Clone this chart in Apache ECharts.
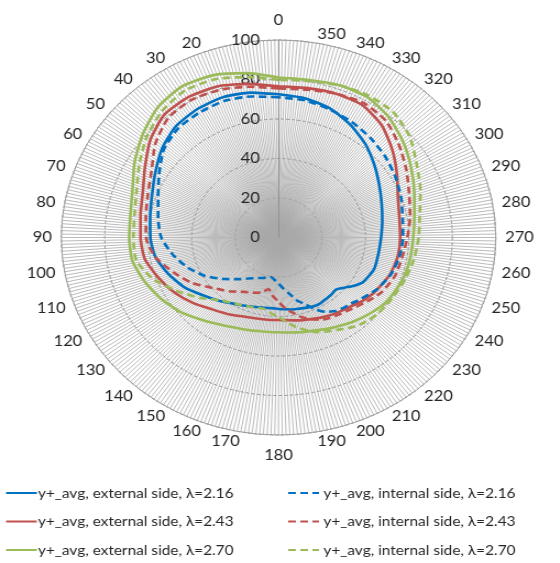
<!DOCTYPE html>
<html>
<head>
<meta charset="utf-8">
<script src="https://cdn.jsdelivr.net/npm/echarts@6/dist/echarts.min.js"></script>
<style>
html,body{margin:0;padding:0;background:#fff;overflow:hidden;}
#chart{width:509px;height:563px;transform:scaleX(1.1);transform-origin:0 0;}
</style>
</head>
<body>
<div id="chart"></div>
<script>
// angle (degrees) of each sampled point
const angles = [0,10,20,30,40,50,60,70,80,90,100,110,120,130,140,150,160,165,170,175,180,185,190,195,200,205,210,215,220,225,230,235,240,250,260,270,280,290,300,310,320,330,340,350,360];

const ext216 = [72.5,74.5,75.5,75,73.5,70,65.5,62,60,59,57.5,54,50.2,45.5,42,39,37.2,36.6,36.2,35.9,36.2,36.5,37,37.3,37.8,38.4,38.5,38,37.8,37.3,39.5,42.5,45,46.8,46.7,47.2,48.5,50.5,53.5,57.5,62,66,69.5,71.5,72.5];
const int216 = [71,72.5,73.5,73,72,69,63.5,59,56.3,54,49.5,44.5,39,32.7,27.5,23.8,21.8,21,20.3,21.5,23.3,26,29,33,36,40.2,43.5,45.5,46.5,47.3,48.8,50.5,52.3,55,56.5,57.3,58,60,62,64,65.8,67.5,69,70.5,71];
const ext243 = [76.5,79,81.5,82.3,81.5,77,71,66.5,64.5,63.5,62.5,59,55.5,51.5,47.5,45,42.8,42.3,42,41.9,41.8,42,42.6,43.3,44,44.9,45.8,46.6,47.5,48.5,50.2,51.5,52.5,54.6,55.7,56,56.5,58.5,63,68.5,74,77.3,77.5,76.8,76.5];
const int243 = [75.5,77.5,79.5,80.4,79,74,67.5,64,62,61,57.5,51.5,46,39.7,35.5,31.8,29.8,28.6,26.5,29.8,32.5,36,38.8,41.8,44,46,47,47.8,48.7,50,51.5,53.3,55,57,57.8,59.3,61.5,64,68,72.5,77,78.6,77.5,76,75.5];
const ext270 = [81,84.5,87.5,88.5,86.3,81.5,76.5,71.5,69.2,68.7,68.3,65.5,62.3,58.7,54.5,51.3,49.3,48.7,48.2,48,48,48.3,48.8,49.4,50,51.2,52.3,53.6,55,56.3,57.7,59,59.8,61,61.5,62,63.5,66.5,70.5,75,79.2,82,82,81,81];
const int270 = [79.8,82.5,85.3,86,83.5,79.2,74,69.5,67.3,66.8,66.5,61.5,54,47.5,41.5,38.8,37.4,36.8,36.8,38.5,40.3,43,46,48.5,51,52.5,54,56,57.8,58.9,59.7,60.2,60.7,62,63.3,64.5,66,69.5,73.5,79,82.5,83,82,80.5,79.8];

const seriesNames = [
  'y+_avg, external side, λ=2.16',
  'y+_avg, external side, λ=2.43',
  'y+_avg, external side, λ=2.70',
  'y+_avg, internal side, λ=2.16',
  'y+_avg, internal side, λ=2.43',
  'y+_avg, internal side, λ=2.70'
];
const seriesValues = [ext216, ext243, ext270, int216, int243, int270];
const seriesColors = ['#0070C0','#C0504D','#9BBB59','#0070C0','#C0504D','#9BBB59'];
const seriesDashed = [false,false,false,true,true,true];

const radiusTicks = [0,20,40,60,80,100];
const hiddenAngleLabels = [10,360];
const FONT = 'Lato, "Open Sans", sans-serif';

const chart = echarts.init(document.getElementById('chart'), null, {renderer:'canvas'});

const series = seriesNames.map((name, i) => ({
  name: name,
  type: 'line',
  coordinateSystem: 'polar',
  symbol: 'none',
  smooth: 0.2,
  data: angles.map((a, k) => [seriesValues[i][k], a]),
  lineStyle: {
    color: seriesColors[i],
    width: 2.6,
    type: seriesDashed[i] ? [7, 4] : 'solid'
  },
  itemStyle: { color: seriesColors[i] },
  z: 3
}));

function angleLabel(v) {
  if (hiddenAngleLabels.indexOf(v) >= 0) return '';
  if (v === 0) return '{t|0}';
  if (v === 180) return '{b|180}';
  if (v === 350 || v === 190) return '{l|' + v + '}';
  if (v === 170) return '{r|' + v + '}';
  return '{n|' + v + '}';
}

const labelText = { fontSize: 15, fontFamily: FONT, color: '#262626' };

const legendBase = {
  orient: 'vertical',
  top: 486,
  padding: 0,
  itemWidth: 28, itemHeight: 14, itemGap: 14.5,
  itemStyle: { opacity: 0 },
  selectedMode: false
};

chart.setOption({
  animation: false,
  polar: { center: [253.2, 237.5], radius: 197.5 },
  angleAxis: {
    type: 'value',
    min: 0, max: 360, interval: 10,
    startAngle: 90, clockwise: false,
    axisLine: { show: true, lineStyle: { color: '#a0a0a0', width: 1 } },
    axisTick: { show: false },
    minorTick: { show: false, splitNumber: 10 },
    splitLine: { show: true, lineStyle: { color: '#a8a8a8', width: 0.8 } },
    minorSplitLine: { show: true, lineStyle: { color: '#a8a8a8', width: 0.8 } },
    axisLabel: {
      margin: 8.5,
      fontSize: 15,
      color: '#262626',
      fontFamily: FONT,
      lineHeight: 1,
      formatter: angleLabel,
      rich: {
        n: Object.assign({ lineHeight: 1 }, labelText),
        t: Object.assign({ lineHeight: 23 }, labelText),
        b: Object.assign({ lineHeight: 23 }, labelText),
        l: Object.assign({ lineHeight: 1, padding: [0, 0, 0, 25] }, labelText),
        r: Object.assign({ lineHeight: 1, padding: [0, 25, 0, 0] }, labelText)
      }
    }
  },
  radiusAxis: {
    type: 'value',
    min: 0, max: 100, interval: 20,
    axisLine: { show: true, lineStyle: { color: '#909090', width: 1 } },
    axisTick: { show: false },
    splitLine: { show: true, lineStyle: { color: '#8a8a8a', width: 1, type: [3, 2] } },
    axisLabel: {
      margin: 17,
      fontSize: 15, color: '#262626', fontFamily: FONT,
      formatter: v => (radiusTicks.indexOf(v) >= 0 ? String(v) : '')
    }
  },
  legend: [
    Object.assign({}, legendBase, {
      data: seriesNames.slice(0, 3),
      left: 4.5,
      textStyle: { fontSize: 14, color: '#262626', fontFamily: FONT, padding: [0, 0, 0, -4] }
    }),
    Object.assign({}, legendBase, {
      data: seriesNames.slice(3, 6),
      left: 261,
      textStyle: { fontSize: 14, color: '#262626', fontFamily: FONT, padding: [0, 0, 0, -1] }
    })
  ],
  series: series
});
</script>
</body>
</html>
